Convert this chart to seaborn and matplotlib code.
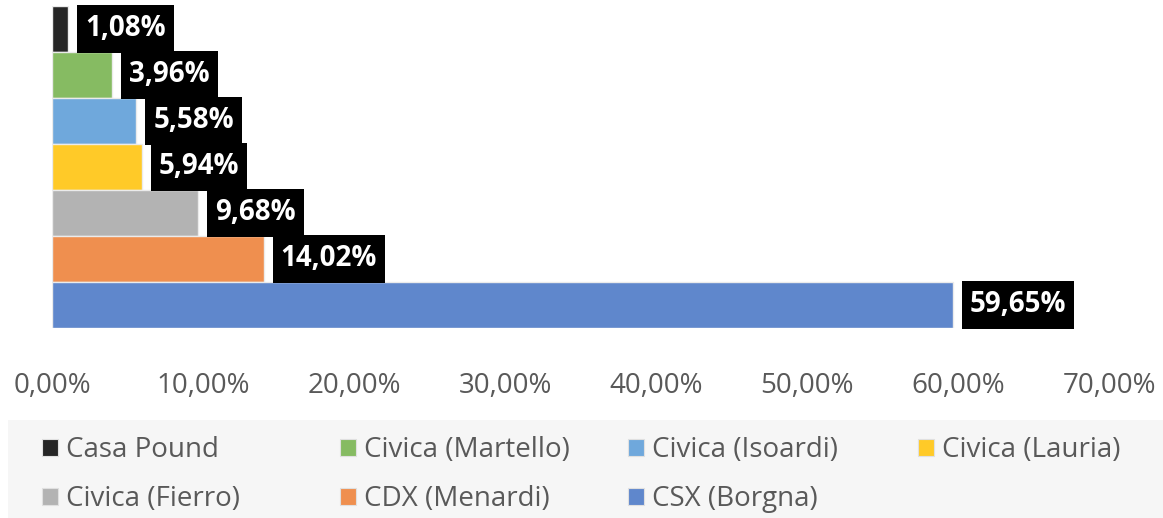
import matplotlib
matplotlib.use("Agg")
import matplotlib.pyplot as plt
import seaborn as sns
import pandas as pd
from matplotlib.patches import Patch, Rectangle
from matplotlib.path import Path
from matplotlib.ticker import FuncFormatter

categories = ["Casa Pound", "Civica (Martello)", "Civica (Isoardi)", "Civica (Lauria)",
              "Civica (Fierro)", "CDX (Menardi)", "CSX (Borgna)"]
values = [1.08, 3.96, 5.58, 5.94, 9.68, 14.02, 59.65]
colors = ["#262626", "#86bb62", "#6fa8dc", "#ffca28", "#b3b3b3", "#ef8f4f", "#5f87cc"]
xticks = [0, 10, 20, 30, 40, 50, 60, 70]

sns.set_theme(style="white")
plt.rcParams['font.family'] = ['Open Sans', 'DejaVu Sans']

W, H = 1163, 518
df = pd.DataFrame({"party": categories, "pct": values})

fig = plt.figure(figsize=(W / 100, H / 100), dpi=100)
ax = fig.add_axes([52 / W, 1 - 328 / H, (1109 - 52) / W, 322 / H])

sns.barplot(data=df, y="party", x="pct", hue="party", palette=colors, order=categories,
            hue_order=categories, width=1.0, legend=False, ax=ax, saturation=1,
            edgecolor="#ebebeb", linewidth=1.0, orient="h")

ax.set_xlim(0, 70)
ax.set_ylim(len(categories) - 0.5, -0.5)
ax.set_xticks(xticks)
ax.xaxis.set_major_formatter(FuncFormatter(lambda v, p: f"{v:.2f}%".replace(".", ",")))
ax.tick_params(axis="x", length=0, labelsize=20, labelcolor="#595959", pad=32)
ax.set_yticks([])
ax.set_xlabel("")
ax.set_ylabel("")
for s in ax.spines.values():
    s.set_visible(False)


def label_box(x0, y0, width, height, mutation_size):
    padx = 0.29 * mutation_size
    pady = 0.33 * mutation_size
    x0, y0 = x0 - padx, y0 - pady
    x1, y1 = x0 + width + 2 * padx, y0 + height + 2 * pady
    return Path([(x0, y0), (x1, y0), (x1, y1), (x0, y1), (x0, y0)], closed=True)


for i, v in enumerate(values):
    ax.text(v + 1.13, i, f"{v:.2f}%".replace(".", ","), ha="left", va="center",
            fontsize=20, fontweight="bold", color="white",
            bbox=dict(boxstyle=label_box, facecolor="black", edgecolor="none"))

# legend background
fig.patches.append(Rectangle((8 / W, 0), 1 - 8 / W, 98 / H, transform=fig.transFigure,
                             facecolor="#f6f6f6", edgecolor="none", zorder=0))

col_x = [42, 340, 628, 918]
row_y = [450, 499]
for k, (c, lab) in enumerate(zip(colors, categories)):
    r, cidx = divmod(k, 4)
    lg = fig.legend(handles=[Patch(facecolor=c, edgecolor="#e0e0e0", linewidth=0.8, label=lab)],
                    loc="center left", bbox_to_anchor=(col_x[cidx] / W, 1 - row_y[r] / H),
                    frameon=False, fontsize=20, borderpad=0, borderaxespad=0,
                    handlelength=0.58, handleheight=0.58, handletextpad=0.3)
    for t in lg.get_texts():
        t.set_color("#595959")

fig.savefig("out.png", dpi=100)
